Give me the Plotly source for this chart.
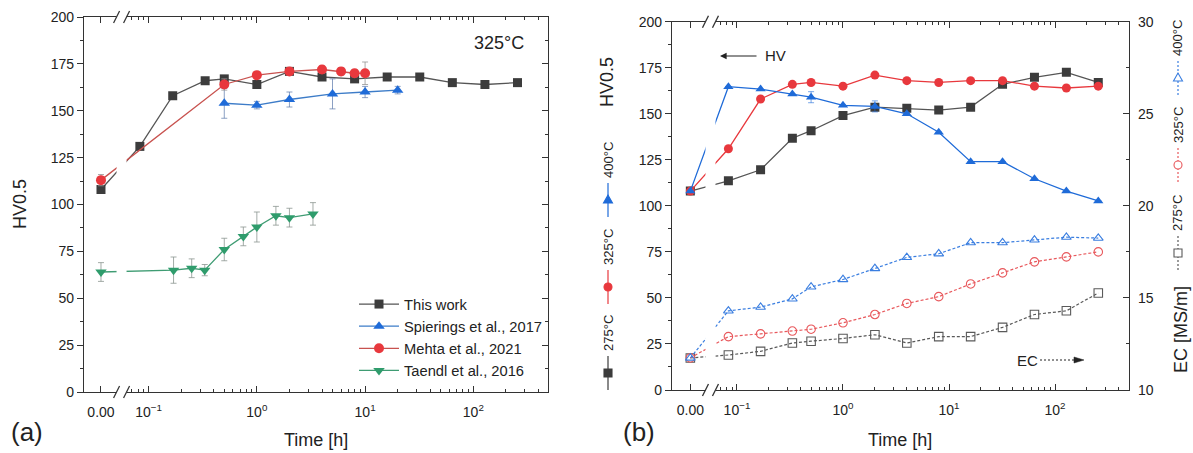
import math
import plotly.graph_objects as go

W, H = 1193, 453

# ---------------- data : panel (a) ----------------
t_this = [0, 0.083, 0.167, 0.333, 0.5, 1, 2, 4, 8, 16, 32, 64, 128, 256]
hv_this = [108, 131, 158, 166, 167, 164, 171, 168, 167, 168, 168, 165, 164, 165]

t_spier = [0.5, 1, 2, 5, 10, 20]
hv_spier = [154, 153, 156, 159, 160, 161]
err_spier = [8, 2, 4, 8, 3, 2]

t_mehta = [0, 0.5, 1, 2, 4, 6, 8, 10]
hv_mehta = [113, 164, 169, 171, 172, 171, 170, 170]
err_mehta = [3, 3, 2, 2, 2, 2, 2, 6]

t_taendl = [0, 0.17, 0.25, 0.33, 0.5, 0.75, 1, 1.5, 2, 3.3]
hv_taendl = [64, 65, 66, 65, 76, 83, 88, 94, 93, 95]
err_taendl = [5, 7, 5, 3, 6, 5, 8, 5, 5, 6]

# ---------------- data : panel (b) ----------------
t_b = [0, 0.083, 0.167, 0.333, 0.5, 1, 2, 4, 8, 16, 32, 64, 128, 256]
hv_275 = [108, 113.6, 119.6, 136.7, 140.8, 149, 153.6, 153, 152, 153.6, 166, 169.8, 172.5, 167]
hv_325 = [108, 131, 158, 166, 167, 165, 171, 168, 167, 168, 168, 165, 164, 165]
hv_400 = [108, 164.7, 163.4, 160.8, 159, 154.6, 154, 150, 140, 124, 124, 114.7, 108, 102.7]
err_400 = [0, 0, 0, 0, 3, 0, 3, 0, 0, 0, 0, 0, 0, 0]
ec_275 = [11.74, 11.9, 12.1, 12.55, 12.65, 12.8, 13.0, 12.55, 12.9, 12.9, 13.4, 14.1, 14.3, 15.27]
ec_325 = [11.74, 12.9, 13.05, 13.2, 13.3, 13.65, 14.1, 14.7, 15.07, 15.76, 16.36, 16.96, 17.23, 17.5]
ec_400 = [11.74, 14.3, 14.5, 14.95, 15.6, 16.0, 16.6, 17.2, 17.4, 18.0, 18.0, 18.15, 18.3, 18.25]

x_tickvals_h = [0.1, 1, 10, 100]
x_ticktext = ["0.00", "10<sup>\u22121</sup>", "10<sup>0</sup>", "10<sup>1</sup>", "10<sup>2</sup>"]
hv_ticks = [0, 25, 50, 75, 100, 125, 150, 175, 200]
ec_ticks = [10, 15, 20, 25, 30]

# ---------------- layout constants ----------------
ZERO_LOG = -1.44          # where the t = 0 point sits (left of the axis break)
ZERO_POS = 10 ** ZERO_LOG
BREAK_LOG = -1.25
XR_A = [-1.597, 2.69]
XR_B = [-1.613, 2.698]
DOM_XA = [84 / W, 548 / W]
DOM_YA = [1 - 392 / H, 1 - 17 / H]
DOM_XB = [672 / W, 1129 / W]
DOM_YB = [1 - 390 / H, 1 - 21.7 / H]

FONT = "Arial, Liberation Sans, Helvetica, sans-serif"
TXT = "#222222"
AX = "#333333"

BLK_M, BLK_L = "#3c3c3c", "#555555"
RED_M, RED_L = "#e8383d", "#c8524f"
BLU_M, BLU_L = "#1f6bd8", "#3d7cc8"
GRN_M, GRN_L = "#2f9c6c", "#3f9c73"


def xp(ts):
    return [ZERO_POS if v == 0 else v for v in ts]


minor_vals = [0.06, 0.07, 0.08, 0.09] + [k / 10 for k in range(2, 10)] + list(range(2, 10)) + \
    [k * 10 for k in range(2, 10)] + [k * 100 for k in range(2, 6)]

fig = go.Figure()

# ---------- panel (a) traces ----------
fig.add_trace(go.Scatter(x=xp(t_this), y=hv_this, mode="lines+markers", name="This work",
                         line=dict(color=BLK_L, width=1.3),
                         marker=dict(symbol="square", size=9, color=BLK_M),
                         xaxis="x", yaxis="y", legendgroup="a1"))
fig.add_trace(go.Scatter(x=xp(t_spier), y=hv_spier, mode="lines+markers", name="Spierings et al., 2017",
                         line=dict(color=BLU_L, width=1.3),
                         marker=dict(symbol="triangle-up", size=10, color=BLU_M),
                         error_y=dict(type="data", array=err_spier, color="rgba(90,120,170,0.7)",
                                      thickness=1, width=3),
                         xaxis="x", yaxis="y", legendgroup="a2"))
fig.add_trace(go.Scatter(x=xp(t_mehta), y=hv_mehta, mode="lines+markers", name="Mehta et al., 2021",
                         line=dict(color=RED_L, width=1.3),
                         marker=dict(symbol="circle", size=10, color=RED_M),
                         error_y=dict(type="data", array=err_mehta, color="rgba(150,150,150,0.8)",
                                      thickness=1, width=3),
                         xaxis="x", yaxis="y", legendgroup="a3"))
fig.add_trace(go.Scatter(x=xp(t_taendl), y=hv_taendl, mode="lines+markers", name="Taendl et al., 2016",
                         line=dict(color=GRN_L, width=1.3),
                         marker=dict(symbol="triangle-down", size=10, color=GRN_M),
                         error_y=dict(type="data", array=err_taendl, color="rgba(140,150,145,0.8)",
                                      thickness=1, width=3),
                         xaxis="x", yaxis="y", legendgroup="a4"))
fig.add_trace(go.Scatter(x=[], y=[], xaxis="x", yaxis="y4", showlegend=False, hoverinfo="skip"))

# ---------- panel (b) traces ----------
for hv, col_m, col_l, sym in [(hv_275, BLK_M, BLK_L, "square"),
                              (hv_325, RED_M, RED_M, "circle"),
                              (hv_400, BLU_M, BLU_M, "triangle-up")]:
    kw = {}
    if hv is hv_400:
        kw["error_y"] = dict(type="data", array=err_400, color="rgba(31,107,216,0.6)", thickness=1, width=3)
    fig.add_trace(go.Scatter(x=xp(t_b), y=hv, mode="lines+markers", showlegend=False,
                             line=dict(color=col_l, width=1.3),
                             marker=dict(symbol=sym, size=9, color=col_m),
                             xaxis="x2", yaxis="y2", **kw))

for ec, col, sym in [(ec_275, "#5a5a5a", "square-open"),
                     (ec_325, "#e8585c", "circle-open"),
                     (ec_400, "#3a7ee0", "triangle-up-open")]:
    fig.add_trace(go.Scatter(x=xp(t_b), y=ec, mode="lines+markers", showlegend=False,
                             line=dict(color=col, width=1.2, dash="3px,2px"),
                             marker=dict(symbol=sym, size=8.5, color=col, line=dict(width=1.1, color=col)),
                             xaxis="x2", yaxis="y3"))

# ---------- axes ----------
common_x = dict(type="log", showline=True, linecolor=AX, linewidth=1.3, mirror="ticks",
                ticks="inside", ticklen=6, tickwidth=1.2, tickcolor=AX,
                tickmode="array", tickvals=[ZERO_POS] + x_tickvals_h, ticktext=x_ticktext,
                tickfont=dict(family=FONT, size=14, color=TXT), ticklabelstandoff=7,
                minor=dict(tickmode="array", tickvals=minor_vals, ticks="inside", ticklen=3,
                           tickwidth=1, tickcolor=AX),
                showgrid=False, zeroline=False, automargin=False)
common_y = dict(showline=True, linecolor=AX, linewidth=1.3, ticks="outside", ticklen=6,
                tickwidth=1.2, tickcolor=AX, tickmode="array", tickvals=hv_ticks,
                tickfont=dict(family=FONT, size=14, color=TXT),
                minor=dict(dtick=12.5, tick0=0, ticks="outside", ticklen=3, tickwidth=1, tickcolor=AX),
                showgrid=False, zeroline=False, range=[0, 200], automargin=False)

fig.update_layout(
    width=W, height=H, margin=dict(l=0, r=0, t=0, b=0, autoexpand=False),
    paper_bgcolor="white", plot_bgcolor="white",
    font=dict(family=FONT, color=TXT),
    xaxis=dict(domain=DOM_XA, anchor="y", range=XR_A, **common_x),
    xaxis2=dict(domain=DOM_XB, anchor="y2", range=XR_B, **common_x),
    yaxis=dict(domain=DOM_YA, anchor="x", **common_y),
    yaxis4=dict(domain=DOM_YA, anchor="x", overlaying="y", side="right", range=[0, 200],
                showline=True, linecolor=AX, linewidth=1.3, ticks="inside", ticklen=6,
                tickwidth=1.2, tickcolor=AX, tickmode="array", tickvals=hv_ticks,
                showticklabels=False, minor=dict(dtick=12.5, tick0=0, ticks="inside", ticklen=3,
                                                 tickwidth=1, tickcolor=AX),
                showgrid=False, zeroline=False, automargin=False),
    yaxis2=dict(domain=DOM_YB, anchor="x2", **common_y),
    yaxis3=dict(domain=DOM_YB, anchor="x2", overlaying="y2", side="right", range=[10, 30],
                showline=True, linecolor=AX, linewidth=1.3, ticks="inside", ticklen=6,
                tickwidth=1.2, tickcolor=AX, tickmode="array", tickvals=ec_ticks,
                tickfont=dict(family=FONT, size=14, color=TXT), ticklabelstandoff=5,
                minor=dict(dtick=2.5, tick0=10, ticks="inside", ticklen=3, tickwidth=1, tickcolor=AX),
                showgrid=False, zeroline=False, automargin=False),
    legend=dict(x=354 / W, y=1 - 288 / H, xanchor="left", yanchor="top",
                bgcolor="rgba(0,0,0,0)", borderwidth=0, tracegroupgap=0, itemwidth=40,
                font=dict(family=FONT, size=14.7, color=TXT)),
    showlegend=True,
)

shapes = []
annotations = []

# ---------- axis break marks ----------
for xax, yax, xr, dx_dom, dy_dom in [("x", "y", XR_A, DOM_XA, DOM_YA), ("x2", "y2", XR_B, DOM_XB, DOM_YB)]:
    pw = (dx_dom[1] - dx_dom[0]) * W
    ph = (dy_dom[1] - dy_dom[0]) * H
    fc = (BREAK_LOG - xr[0]) / (xr[1] - xr[0])
    half = 5 / pw
    xref, yref = xax + " domain", yax + " domain"
    shapes.append(dict(type="rect", xref=xref, yref=yref, x0=fc - half, x1=fc + half,
                       y0=-4 / ph, y1=1 + 4 / ph, fillcolor="white", line=dict(width=0), layer="above"))
    for yc in (0, 1):
        for off in (-half, half):
            shapes.append(dict(type="line", xref=xref, yref=yref,
                               x0=fc + off - 3 / pw, x1=fc + off + 3 / pw,
                               y0=yc - 6 / ph, y1=yc + 6 / ph,
                               line=dict(color=AX, width=1.3), layer="above"))


def px(xp_, yp_):
    return xp_ / W, 1 - yp_ / H


def marker_shape(xc, yc, sym, color, filled, s=8):
    x0, y0 = px(xc - s / 2, yc + s / 2)
    x1, y1 = px(xc + s / 2, yc - s / 2)
    fill = color if filled else "white"
    if sym == "square":
        return dict(type="rect", xref="paper", yref="paper", x0=x0, y0=y0, x1=x1, y1=y1,
                    fillcolor=fill, line=dict(color=color, width=1.1))
    if sym == "circle":
        return dict(type="circle", xref="paper", yref="paper", x0=x0, y0=y0, x1=x1, y1=y1,
                    fillcolor=fill, line=dict(color=color, width=1.1))
    a = px(xc, yc - s / 2 - 1)
    b = px(xc - s / 2 - 0.5, yc + s / 2 - 1)
    c = px(xc + s / 2 + 0.5, yc + s / 2 - 1)
    path = "M %f,%f L %f,%f L %f,%f Z" % (a[0], a[1], b[0], b[1], c[0], c[1])
    return dict(type="path", xref="paper", yref="paper", path=path,
                fillcolor=fill, line=dict(color=color, width=1.1))


def vlegend(xc, ym, label, color, sym, filled, dash):
    xa, ya = px(xc, ym - 17)
    xb, yb = px(xc, ym + 17)
    shapes.append(dict(type="line", xref="paper", yref="paper", x0=xa, y0=ya, x1=xb, y1=yb,
                       line=dict(color=color, width=1.2, dash=dash)))
    shapes.append(marker_shape(xc, ym, sym, color, filled))
    tx, ty = px(xc, ym - 40)
    annotations.append(dict(x=tx, y=ty, xref="paper", yref="paper", text=label, showarrow=False,
                            textangle=-90, xanchor="center", yanchor="middle",
                            font=dict(family=FONT, size=13, color=TXT)))


# left rotated legend of (b): filled HV markers
vlegend(608, 373, "275\u00b0C", BLK_M, "square", True, "solid")
vlegend(608, 287, "325\u00b0C", RED_M, "circle", True, "solid")
vlegend(608, 200, "400\u00b0C", BLU_M, "triangle", True, "solid")
# right rotated legend of (b): open EC markers
vlegend(1178, 253, "275\u00b0C", "#5a5a5a", "square", False, "2px,2px")
vlegend(1178, 165, "325\u00b0C", "#e8585c", "circle", False, "2px,2px")
vlegend(1178, 78, "400\u00b0C", "#3a7ee0", "triangle", False, "2px,2px")


def ann(xpx, ypx, text, size, angle=0, xanchor="center"):
    x, y = px(xpx, ypx)
    annotations.append(dict(x=x, y=y, xref="paper", yref="paper", text=text, showarrow=False,
                            textangle=angle, xanchor=xanchor, yanchor="middle",
                            font=dict(family=FONT, size=size, color=TXT)))


ann(20, 204, "HV0.5", 18, -90)
ann(607, 82, "HV0.5", 18, -90)
ann(1181, 330, "EC [MS/m]", 18, -90)
ann(316, 440, "Time [h]", 18)
ann(900, 440, "Time [h]", 18)
ann(27, 432, "(a)", 26)
ann(639, 432, "(b)", 26)
ann(499, 43, "325\u00b0C", 18)
ann(763, 56, "HV", 15, xanchor="left")
ann(1015, 360, "EC", 15, xanchor="left")

# HV arrow (pointing left)
hx, hy = px(720, 56)
annotations.append(dict(x=hx, y=hy, xref="paper", yref="paper", text="", showarrow=True,
                        ax=38, ay=0, arrowhead=2, arrowsize=1.2, arrowwidth=1.1, arrowcolor=TXT))
# EC dotted arrow (pointing right)
ex0, ey = px(1040, 360)
ex1, _ = px(1076, 360)
shapes.append(dict(type="line", xref="paper", yref="paper", x0=ex0, y0=ey, x1=ex1, y1=ey,
                   line=dict(color=TXT, width=1.2, dash="2px,2px")))
tip = px(1084, 360)
t1 = px(1074, 357)
t2 = px(1074, 363)
shapes.append(dict(type="path", xref="paper", yref="paper",
                   path="M %f,%f L %f,%f L %f,%f Z" % (tip[0], tip[1], t1[0], t1[1], t2[0], t2[1]),
                   fillcolor=TXT, line=dict(color=TXT, width=0.5)))

fig.update_layout(shapes=shapes, annotations=annotations)
fig.write_html("out.html", config={"displayModeBar": False},
               post_script="document.body.style.margin='0';document.body.style.overflow='hidden';")
